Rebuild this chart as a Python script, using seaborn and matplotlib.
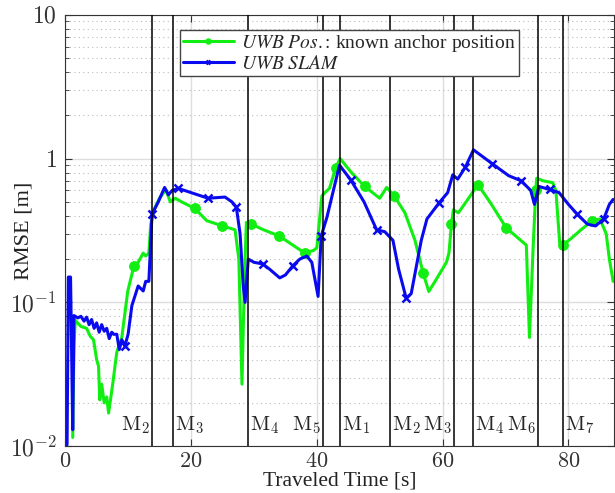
import numpy as np
import pandas as pd
import matplotlib
matplotlib.use("Agg")
import matplotlib.pyplot as plt
from matplotlib.font_manager import FontProperties
from matplotlib.ticker import LogLocator, NullFormatter, FixedFormatter
import seaborn as sns

# green: UWB positioning with known anchors
pos_t = [1.2, 1.4, 1.6, 2.5, 3.4, 4.0, 4.5, 5.0, 5.3, 5.5, 5.8, 6.2, 6.6, 6.9, 7.2, 7.6,
         8.2, 9.0, 9.95, 10.8, 11.0, 11.6, 12.4, 12.8, 13.3, 13.6, 14.2, 15.0, 16.0, 16.7,
         17.5, 18.5, 20.6, 22.5, 25.0, 27.0, 27.6, 28.1, 28.5, 28.8, 29.6, 31.5, 34.0,
         36.2, 38.1, 39.5, 40.0, 40.8, 41.3, 42.0, 43.0, 43.7, 45.5, 47.6, 50.0, 51.1,
         52.3, 54.0, 55.6, 56.9, 57.8, 59.0, 60.6, 61.0, 61.4, 61.7, 62.5, 64.0, 65.6,
         67.5, 70.1, 72.0, 73.3, 73.8, 74.4, 74.8, 74.95, 76.0, 77.5, 78.0, 78.6, 79.1,
         80.5, 82.0, 83.8, 85.0, 86.0, 86.5, 87.1]
pos_rmse = [0.0115, 0.05, 0.075, 0.068, 0.066, 0.058, 0.055, 0.04, 0.036, 0.021, 0.027,
            0.02, 0.022, 0.017, 0.021, 0.028, 0.045, 0.057, 0.12, 0.17, 0.18, 0.19, 0.22,
            0.21, 0.22, 0.35, 0.45, 0.53, 0.61, 0.5, 0.53, 0.5, 0.45, 0.37, 0.34, 0.32,
            0.2, 0.027, 0.15, 0.36, 0.35, 0.32, 0.29, 0.25, 0.22, 0.23, 0.24, 0.55, 0.58,
            0.62, 0.86, 1.0, 0.8, 0.64, 0.53, 0.63, 0.55, 0.42, 0.27, 0.16, 0.119, 0.145,
            0.19, 0.22, 0.35, 0.44, 0.42, 0.52, 0.66, 0.5, 0.33, 0.28, 0.25, 0.057, 0.25,
            0.6, 0.73, 0.7, 0.68, 0.6, 0.26, 0.25, 0.28, 0.32, 0.37, 0.38, 0.3, 0.2, 0.14]
pos_marks = [11.0, 20.6, 25.0, 29.6, 34.0, 38.1, 43.0, 47.6, 52.3, 56.9, 61.4, 65.6,
             70.1, 74.8, 79.1, 83.8]

# blue: UWB SLAM
slam_t = [0.0, 0.3, 0.5, 0.85, 1.2, 1.4, 2.0, 2.5, 3.0, 3.4, 3.8, 4.2, 4.6, 5.0, 5.4, 5.8,
          6.2, 6.6, 7.0, 7.4, 7.7, 8.2, 8.6, 9.0, 9.5, 10.0, 10.6, 11.6, 12.0, 12.4, 12.8,
          13.3, 13.8, 14.8, 15.8, 16.4, 17.0, 18.0, 20.0, 22.7, 25.4, 26.5, 27.2, 27.8,
          28.3, 28.6, 29.1, 30.0, 31.4, 32.5, 34.1, 35.0, 36.2, 37.3, 38.4, 39.2, 40.2,
          40.7, 41.6, 43.6, 45.4, 47.5, 49.5, 50.8, 52.1, 53.0, 54.2, 55.0, 56.6, 57.5,
          59.4, 60.8, 61.6, 62.4, 63.6, 64.9, 67.9, 70.5, 72.5, 74.0, 74.6, 75.3, 77.0,
          78.5, 80.0, 81.4, 83.0, 84.3, 85.6, 86.5, 87.1]
slam_rmse = [0.008, 0.0105, 0.15, 0.15, 0.013, 0.081, 0.078, 0.08, 0.074, 0.079, 0.07,
             0.076, 0.066, 0.072, 0.062, 0.07, 0.063, 0.066, 0.056, 0.062, 0.06, 0.06,
             0.047, 0.055, 0.05, 0.06, 0.095, 0.13, 0.125, 0.12, 0.14, 0.14, 0.41, 0.5,
             0.63, 0.56, 0.6, 0.62, 0.58, 0.53, 0.54, 0.5, 0.46, 0.3, 0.13, 0.1, 0.2, 0.19,
             0.185, 0.17, 0.148, 0.155, 0.18, 0.2, 0.21, 0.19, 0.11, 0.29, 0.39, 0.9, 0.71,
             0.5, 0.32, 0.31, 0.27, 0.17, 0.107, 0.115, 0.27, 0.38, 0.49, 0.58, 0.77, 0.72,
             0.87, 1.15, 0.92, 0.76, 0.7, 0.6, 0.48, 0.64, 0.61, 0.58, 0.48, 0.41, 0.35,
             0.34, 0.38, 0.48, 0.52]
slam_marks = [9.5, 13.8, 18.0, 22.7, 27.2, 31.4, 36.2, 40.7, 45.4, 49.5, 54.2, 59.4,
              63.6, 67.9, 72.5, 77.0, 81.4, 85.6]

# mode switches
switch_t = [13.8, 17.2, 29.0, 41.0, 43.7, 51.6, 61.8, 64.9, 75.2, 79.2]
switch_lab = ["M_2", "M_3", "M_4", "M_5", "M_1", "M_2", "M_3", "M_4", "M_6", "M_7"]
switch_side = ["l", "r", "r", "l", "r", "r", "l", "r", "l", "r"]

x_ticks = [0, 20, 40, 60, 80]
y_ticks = [0.01, 0.1, 1, 10]
y_ticklabels = [r"$10^{-2}$", r"$10^{-1}$", r"$1$", r"$10$"]

sns.set_style("ticks")
plt.rcParams["font.family"] = ["Liberation Serif", "DejaVu Serif"]
plt.rcParams["mathtext.fontset"] = "cm"
plt.rcParams["xtick.direction"] = "in"
plt.rcParams["ytick.direction"] = "in"

fig = plt.figure(figsize=(6.15, 4.93), dpi=100)
ax = fig.add_axes([0.106, 0.095, 0.892, 0.875])

green = "#11ee11"
blue = "#0a0aee"
df_pos = pd.DataFrame({"t": pos_t, "rmse": pos_rmse})
df_slam = pd.DataFrame({"t": slam_t, "rmse": slam_rmse})
pos_idx = [pos_t.index(v) for v in pos_marks]
slam_idx = [slam_t.index(v) for v in slam_marks]

sns.lineplot(data=df_pos, x="t", y="rmse", ax=ax, color=green, lw=2.2,
             marker="o", ms=7, mec=green, mfc=green, markevery=pos_idx, sort=False,
             label=r"$\mathit{UWB\ Pos.}$: known anchor position")
sns.lineplot(data=df_slam, x="t", y="rmse", ax=ax, color=blue, lw=2.2,
             marker="x", ms=5.5, mew=1.8, mec=blue, markevery=slam_idx, sort=False,
             label=r"$\mathit{UWB\ SLAM}$")

for t, lab, side in zip(switch_t, switch_lab, switch_side):
    ax.axvline(t, color="black", lw=1.1, zorder=3)
    if side == "l":
        ax.text(t - 0.4, 0.0118, "$\\mathrm{%s}$" % lab, ha="right", va="bottom", fontsize=15)
    else:
        ax.text(t + 0.3, 0.0118, "$\\mathrm{%s}$" % lab, ha="left", va="bottom", fontsize=15)

ax.set_yscale("log")
ax.set_xlim(0, 87.2)
ax.set_xticks(x_ticks)
ax.set_xticklabels(["$%d$" % v for v in x_ticks])
ax.set_yticks(y_ticks)
ax.yaxis.set_major_formatter(FixedFormatter(y_ticklabels))
ax.yaxis.set_minor_locator(LogLocator(base=10, subs=np.arange(2, 10), numticks=20))
ax.yaxis.set_minor_formatter(NullFormatter())
ax.set_ylim(0.01, 10)
ax.grid(True, which="major", color="#dddddd", lw=1.0)
ax.grid(True, which="minor", axis="y", color="#bbbbbb", ls=(0, (1, 3)), lw=0.8)
ax.set_axisbelow(True)
ax.tick_params(which="both", top=True, right=True, labelsize=17, colors="#333333")
ax.tick_params(which="major", length=5)
ax.tick_params(which="minor", length=3)
ax.tick_params(axis="x", which="major", pad=5, labelsize=16)
ax.tick_params(axis="y", which="major", pad=6)
for s in ax.spines.values():
    s.set_color("#333333")
ax.set_xlabel("Traveled Time [s]", fontsize=15.5, color="#222222")
ax.set_ylabel("RMSE [m]", fontsize=16, color="#222222")
ax.xaxis.set_label_coords(0.5, -0.059)
ax.yaxis.set_label_coords(-0.058, 0.5)

leg = ax.legend(loc="upper left", bbox_to_anchor=(0.192, 0.987), fancybox=False,
                framealpha=1, edgecolor="#444444", markerscale=0.55,
                handlelength=2.6, borderpad=0.15, labelspacing=0.05, handletextpad=0.4,
                prop=FontProperties(family="Liberation Serif", size=14, math_fontfamily="stix"))
leg.get_frame().set_linewidth(1.0)

fig.savefig("out.png", dpi=100)
